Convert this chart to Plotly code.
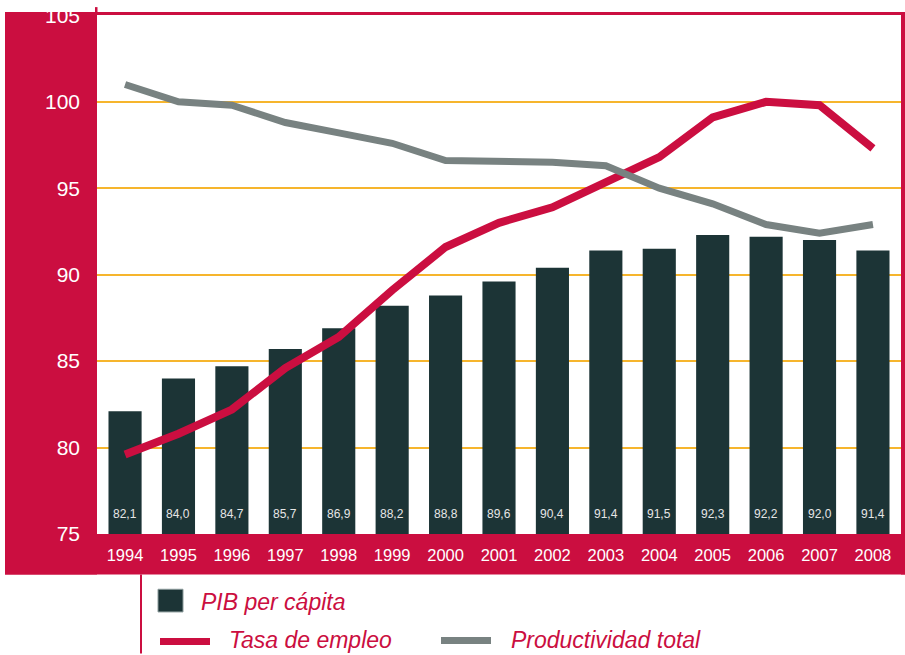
import plotly.graph_objects as go

years = ["1994","1995","1996","1997","1998","1999","2000","2001","2002","2003","2004","2005","2006","2007","2008"]
pib = [82.1, 84.0, 84.7, 85.7, 86.9, 88.2, 88.8, 89.6, 90.4, 91.4, 91.5, 92.3, 92.2, 92.0, 91.4]
empleo = [79.6, 80.8, 82.2, 84.6, 86.4, 89.1, 91.6, 93.0, 93.9, 95.3, 96.8, 99.1, 100.0, 99.8, 97.3]
productividad = [101.0, 100.0, 99.8, 98.8, 98.2, 97.6, 96.6, 96.6, 96.5, 96.3, 95.0, 94.1, 92.9, 92.4, 92.9]
y_ticks = [75, 80, 85, 90, 95, 100, 105]

CRIMSON = "#cb0e40"
DARK = "#1c3436"
GRAY = "#788281"
GOLD = "#f6b52d"
FONT = "Liberation Sans, Arial, sans-serif"

W, H = 905, 655
L, R, T, B = 97, 4, 8, 121
PW, PH = W - L - R, H - T - B
Y0, Y1 = 75, 105

def px(x):
    return (x - L) / PW

def py(y):
    return (H - B - y) / PH

fig = go.Figure()
fig.add_trace(go.Bar(x=years, y=[v - Y0 for v in pib], base=Y0, marker=dict(color=DARK, line=dict(width=0)),
                     name="PIB per cápita", hoverinfo="skip"))
fig.add_trace(go.Scatter(x=years, y=empleo, mode="lines", line=dict(color=CRIMSON, width=8),
                         name="Tasa de empleo"))
fig.add_trace(go.Scatter(x=years, y=productividad, mode="lines", line=dict(color=GRAY, width=7),
                         name="Productividad total"))

label_y = Y0 + 20 * (Y1 - Y0) / PH  # value labels sit near the foot of each bar
annotations = []
for i, v in enumerate(pib):
    annotations.append(dict(x=i, y=label_y, xref="x", yref="y", text=f"{v:.1f}".replace(".", ","),
                            showarrow=False, yanchor="middle",
                            font=dict(family=FONT, size=12, color="#e6e6e6")))

legend_items = [
    ("PIB per cápita", 199, 603),
    ("Tasa de empleo", 227, 641),
    ("Productividad total", 509, 641),
]
for txt, x0, y0 in legend_items:
    annotations.append(dict(x=px(x0), y=py(y0), xref="paper", yref="paper", text=f"<i>{txt}</i>",
                            showarrow=False, xanchor="left", yanchor="middle",
                            font=dict(family=FONT, size=23, color=CRIMSON)))

def rect(x0, y0, x1, y1, color, line=None):
    return dict(type="rect", xref="paper", yref="paper", x0=px(x0), x1=px(x1), y0=py(y1), y1=py(y0),
                fillcolor=color, line=line or dict(width=0), layer="below")

shapes = [
    rect(5, 5, 97, 575, CRIMSON),
    rect(5, 534, 905, 575, CRIMSON),
    rect(901, 5, 905, 575, CRIMSON),
    rect(95, 5, 905, 8, CRIMSON),
    rect(95, 0, 97.5, 5, CRIMSON),
    rect(140, 575, 142, 655, CRIMSON),
    rect(158, 590, 183, 613, DARK, dict(width=1, color="#8a9a9a")),
    dict(type="line", xref="paper", yref="paper", x0=px(160), x1=px(210), y0=py(643), y1=py(643),
         line=dict(color=CRIMSON, width=7)),
    dict(type="line", xref="paper", yref="paper", x0=px(441), x1=px(491), y0=py(642), y1=py(642),
         line=dict(color=GRAY, width=7)),
]

fig.update_layout(
    width=W, height=H,
    margin=dict(l=L, r=R, t=T, b=B, pad=0),
    paper_bgcolor="white", plot_bgcolor="white",
    showlegend=False,
    bargap=0.38,
    annotations=annotations,
    shapes=shapes,
    xaxis=dict(type="category", range=[-0.525, 14.525], showgrid=False, zeroline=False, showline=False,
               ticks="", tickfont=dict(family=FONT, size=16.5, color="white"), ticklabelstandoff=9),
    yaxis=dict(range=[Y0, Y1 + 0.02], tickvals=y_ticks, showgrid=True, gridcolor=GOLD, gridwidth=2,
               zeroline=False, showline=False, ticks="", ticklabeloverflow="allow",
               tickfont=dict(family=FONT, size=21, color="white"), ticklabelstandoff=16),
)

fig.write_html("out.html", config={"displayModeBar": False},
               post_script="document.body.style.margin='0';document.body.style.overflow='hidden';")
